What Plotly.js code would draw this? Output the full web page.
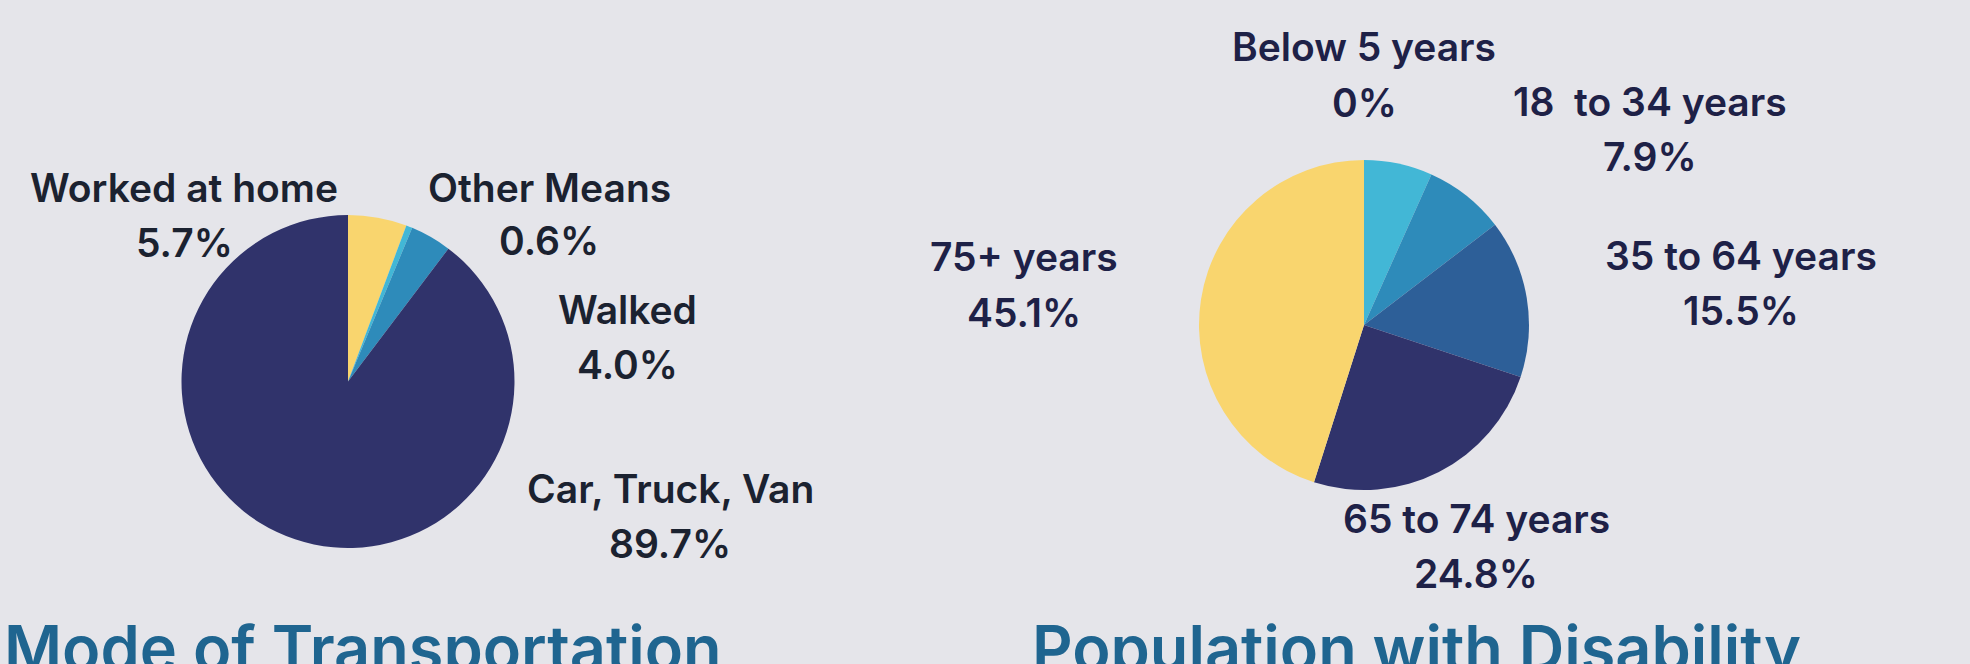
<!DOCTYPE html>
<html>
<head>
<meta charset="utf-8">
<script src="https://cdn.plot.ly/plotly-3.0.1.min.js"></script>
<style>
  html, body { margin: 0; padding: 0; background: #e5e5ea; }
  #chart { width: 1970px; height: 664px; }
</style>
</head>
<body>
<div id="chart"></div>
<script>
// ---- Data ----
const transportLabels = ["Worked at home", "Other Means", "Walked", "Car, Truck, Van"];
const transportValues = [5.7, 0.6, 4.0, 89.7];
const transportColors = ["#f9d56e", "#42b7d6", "#2e8bba", "#30336b"];

const disabilityLabels = ["Below 5 years", "5 to 17 years", "18\u00a0 to 34 years", "35 to 64 years", "65 to 74 years", "75+ years"];
const disabilityValues = [0, 6.7, 7.9, 15.5, 24.8, 45.1];
const disabilityColors = ["#42b7d6", "#42b7d6", "#2e8bba", "#2d5f98", "#30336b", "#f9d56e"];
const disabilityShown = [true, false, true, true, true, true];

const titles = ["Mode of Transportation", "Population with Disability"];

// ---- Layout helpers (pixel -> paper) ----
const W = 1970, H = 664;
const px = x => x / W;
const py = y => 1 - y / H;

// label centre positions in pixels [x, yName, yPct]
const transportLabelPos = [[184, 188, 242], [549, 188, 240], [627, 309, 364], [670, 488, 543]];
const disabilityLabelPos = [[1364, 47, 102], null, [1650, 101, 156], [1741, 255, 310], [1476, 518, 573], [1024, 257, 312]];

const fmtPct = v => v === 0 ? "0%" : v.toFixed(1) + "%";
const FONT = "Inter, 'Open Sans', sans-serif";
const LABEL_SIZE = 39;

const annotations = [];
function addLabels(labels, values, pos, color, shown) {
  labels.forEach((lab, i) => {
    if (!pos[i] || (shown && !shown[i])) return;
    const [x, y1, y2] = pos[i];
    annotations.push({ text: lab, x: px(x), y: py(y1), xref: "paper", yref: "paper",
      xanchor: "center", yanchor: "middle", showarrow: false,
      font: { family: FONT, size: LABEL_SIZE, color: color, weight: 600 } });
    annotations.push({ text: fmtPct(values[i]), x: px(x), y: py(y2), xref: "paper", yref: "paper",
      xanchor: "center", yanchor: "middle", showarrow: false,
      font: { family: FONT, size: LABEL_SIZE, color: color, weight: 600 } });
  });
}
addLabels(transportLabels, transportValues, transportLabelPos, "#1b2230");
addLabels(disabilityLabels, disabilityValues, disabilityLabelPos, "#1e2147", disabilityShown);

annotations.push({ text: titles[0], x: px(2), y: py(608), xref: "paper", yref: "paper",
  xanchor: "left", yanchor: "top", showarrow: false,
  font: { family: FONT, size: 63, color: "#1f6590", weight: 600 } });
annotations.push({ text: titles[1], x: px(1030), y: py(608), xref: "paper", yref: "paper",
  xanchor: "left", yanchor: "top", showarrow: false,
  font: { family: FONT, size: 63, color: "#1f6590", weight: 600 } });

const traces = [
  {
    type: "pie", labels: transportLabels, values: transportValues,
    marker: { colors: transportColors, line: { width: 0 } },
    sort: false, direction: "clockwise", rotation: 0,
    textinfo: "none", hoverinfo: "label+percent",
    domain: { x: [px(181.5), px(514.5)], y: [py(548), py(215)] }
  },
  {
    type: "pie", labels: disabilityLabels, values: disabilityValues,
    marker: { colors: disabilityColors, line: { width: 0 } },
    sort: false, direction: "clockwise", rotation: 0,
    textinfo: "none", hoverinfo: "label+percent",
    domain: { x: [px(1199), px(1529)], y: [py(490), py(160)] }
  }
];

const layout = {
  width: W, height: H,
  margin: { l: 0, r: 0, t: 0, b: 0 },
  paper_bgcolor: "#e5e5ea", plot_bgcolor: "#e5e5ea",
  showlegend: false,
  annotations: annotations
};

Plotly.newPlot("chart", traces, layout, { displayModeBar: false, staticPlot: true });
</script>
</body>
</html>
